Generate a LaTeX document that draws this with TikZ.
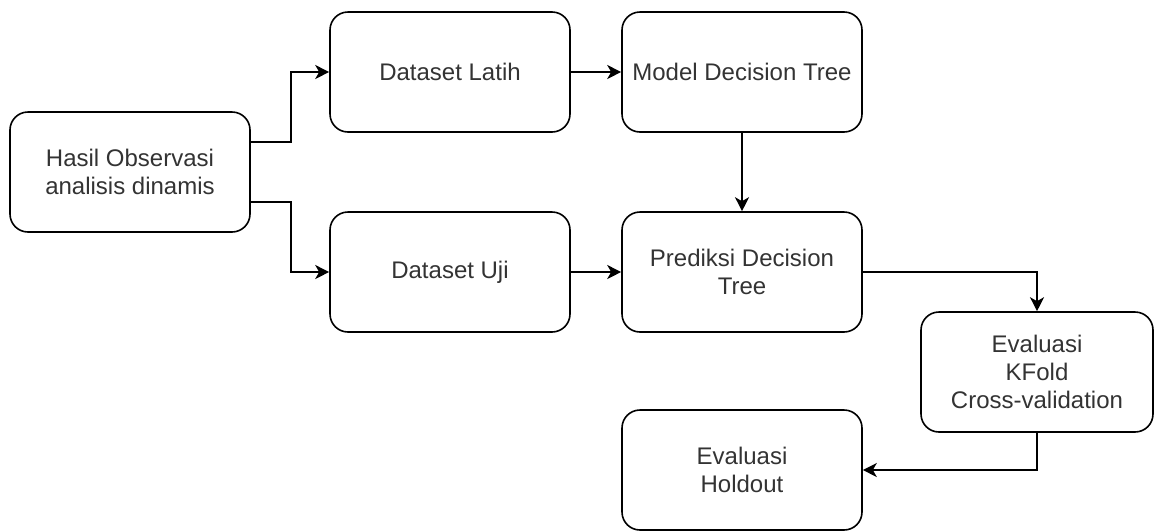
\documentclass[tikz,border=0pt]{standalone}
\usepackage{fontspec}
\setmainfont{Liberation Sans}
\usepackage{tikz}
\usepackage{xcolor}
\usetikzlibrary{arrows.meta}

\definecolor{boxtext}{HTML}{333333}

\tikzset{
  stepbox/.style={draw, line width=1.6pt, rounded corners=18pt,
    minimum width=240pt, minimum height=120pt, align=center,
    text=boxtext, font=\fontsize{24pt}{28pt}\selectfont},
  flow/.style={line width=1.6pt, -{Stealth[length=14pt, width=14pt, inset=4pt]}}
}

\begin{document}
\begin{tikzpicture}[x=1pt, y=-1pt]
    \useasboundingbox (0,0) rectangle (1156,531);
    % process boxes
    \node[stepbox] (hasil) at (130,172) {Hasil Observasi\\analisis dinamis};
    \node[stepbox] (latih) at (450,72) {Dataset Latih};
    \node[stepbox] (model) at (742,72) {Model Decision Tree};
    \node[stepbox] (uji) at (450,272) {Dataset Uji};
    \node[stepbox] (prediksi) at (742,272) {Prediksi Decision\\Tree};
    \node[stepbox, minimum width=232pt] (kfold) at (1037,372) {Evaluasi\\KFold\\Cross-validation};
    \node[stepbox] (holdout) at (742,470) {Evaluasi\\Holdout};
    % connectors
    \draw[flow] ([yshift=30pt]hasil.east) -- ++(40,0) |- (latih.west);
    \draw[flow] ([yshift=-30pt]hasil.east) -- ++(40,0) |- (uji.west);
    \draw[flow] (latih) -- (model);
    \draw[flow] (model) -- (prediksi);
    \draw[flow] (uji) -- (prediksi);
    \draw[flow] (prediksi.east) -| (kfold.north);
    \draw[flow] (kfold.south) |- (holdout.east);
\end{tikzpicture}
\end{document}
